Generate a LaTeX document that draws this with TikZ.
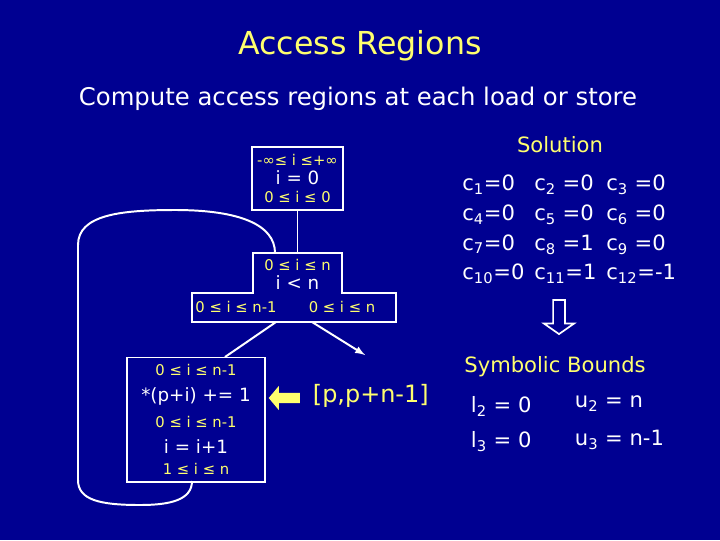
\documentclass[tikz,border=0pt]{standalone}
\usepackage{fontspec}
\setmainfont{DejaVu Sans}
\usetikzlibrary{positioning}
\usetikzlibrary{shapes.arrows}
\definecolor{slidebg}{RGB}{0,0,145}
\definecolor{slideyel}{RGB}{255,255,110}
\newcommand{\yl}[1]{\textcolor{slideyel}{\fontsize{10.5}{13.5}\selectfont #1}}
\newcommand{\wt}[1]{{\fontsize{13}{13.5}\selectfont #1}}
\begin{document}
\begin{tikzpicture}[
  x=0.025cm, y=-0.025cm,
  blk/.style={draw=white,line width=1.4pt,align=center,inner sep=0pt,
    font=\fontsize{13}{13.5}\selectfont},
  tiny/.style={font=\fontsize{10.5}{12}\selectfont},
  big/.style={font=\fontsize{15}{21}\selectfont},
  wline/.style={white,line width=1.4pt}
]
  \fill[slidebg] (0,0) rectangle (720,540);

  \node[text=slideyel,font=\fontsize{22.5}{26}\selectfont] (title) at (360,46) {Access Regions};
  \node[text=white,font=\fontsize{17.3}{20}\selectfont] (sub) at (358,99) {Compute access regions at each load or store};

  % entry block
  \node[blk,minimum width=2.275cm,minimum height=1.575cm,text=white] (entry) at (297.5,178.5)
    {\yl{-∞≤ i ≤+∞}\\\wt{i = 0}\\\yl{0 ≤ i ≤ 0}};

  % loop test block
  \draw[wline] (253,293) -- (253,253) -- (342,253) -- (342,293) -- (396,293)
    -- (396,322) -- (192,322) -- (192,293) -- cycle;
  \node[text=white,align=center,font=\fontsize{13}{13.5}\selectfont] (test) at (297.5,274)
    {\yl{0 ≤ i ≤ n}\\\wt{i < n}};
  \node[tiny,text=slideyel] (tt) at (236,307) {0 ≤ i ≤ n-1};
  \node[tiny,text=slideyel] (tf) at (342,307) {0 ≤ i ≤ n};
  \coordinate (tin) at (275,253);
  \coordinate (tl) at (276,322);
  \coordinate (tr) at (312,322);
  \coordinate (exit) at (365,355);

  % loop body
  \node[blk,minimum width=3.45cm,minimum height=3.1cm,text=white] (body) at (196,419.5)
    {\yl{0 ≤ i ≤ n-1}\\[5pt]\wt{*(p+i) += 1}\\[5pt]\yl{0 ≤ i ≤ n-1}\\[5pt]\wt{i = i+1}\\[1pt]\yl{1 ≤ i ≤ n}};
  \coordinate (bout) at (192,481);

  \draw[wline] (entry.south) -- (test.north |- tin);
  \draw[wline] (tl) -- (225,357);
  \draw[wline,-latex] (tr) -- (exit);
  \draw[wline] (bout) .. controls (192,500) and (170,505) .. (140,505)
    .. controls (100,505) and (78,500) .. (78,480) -- (78,245)
    .. controls (78,215) and (120,210) .. (175,210)
    .. controls (240,210) and (275,225) .. (tin);

  \node[single arrow,shape border rotate=180,fill=slideyel,minimum height=0.78cm,
    inner sep=3.5pt,single arrow head extend=5pt,single arrow tip angle=100] (yarr) at (286.5,398) {};
  \node[text=slideyel,font=\fontsize{17}{21}\selectfont,anchor=west] (range) at (308,396) {[p,p+n-1]};

  % solution
  \node[text=slideyel,big] (sol) at (560,145) {Solution};
  \node[text=white,big,align=left,anchor=north west,inner sep=0pt] (cs) at (462,170)
    {\begin{tabular}{@{}p{1.8cm}@{}p{1.8cm}@{}l@{}}
     c\textsubscript{1}=0 & c\textsubscript{2} =0 & c\textsubscript{3} =0\\
     c\textsubscript{4}=0 & c\textsubscript{5} =0 & c\textsubscript{6} =0\\
     c\textsubscript{7}=0 & c\textsubscript{8} =1 & c\textsubscript{9} =0\\
     c\textsubscript{10}=0 & c\textsubscript{11}=1 & c\textsubscript{12}=-1
     \end{tabular}};

  \node[single arrow,shape border rotate=270,draw=white,line width=1.2pt,
    minimum height=0.85cm,inner sep=3.6pt,single arrow head extend=6.5pt,
    single arrow tip angle=110] (down) at (559,315) {};

  \node[text=slideyel,big] (sym) at (555,367) {Symbolic Bounds};
  \node[text=white,big,anchor=west] (l2) at (466,406) {l\textsubscript{2} = 0};
  \node[text=white,big,anchor=west] (u2) at (570,404) {u\textsubscript{2} = n};
  \node[text=white,big,anchor=west] (l3) at (466,442) {l\textsubscript{3} = 0};
  \node[text=white,big,anchor=west] (u3) at (570,440) {u\textsubscript{3} = n-1};
\end{tikzpicture}
\end{document}
